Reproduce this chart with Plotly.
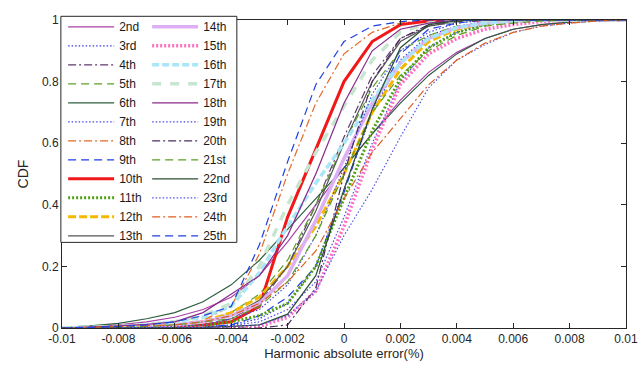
import plotly.graph_objects as go

# x grid (Harmonic absolute error, %)
x_grid = [-0.010, -0.009, -0.008, -0.007, -0.006, -0.005, -0.004, -0.003, -0.002, -0.001,
          0.000, 0.001, 0.002, 0.003, 0.004, 0.005, 0.006, 0.007, 0.008, 0.009, 0.010]

names = ["2nd", "3rd", "4th", "5th", "6th", "7th", "8th", "9th", "10th", "11th", "12th", "13th",
         "14th", "15th", "16th", "17th", "18th", "19th", "20th", "21st", "22nd", "23rd", "24th", "25th"]

cdf_2nd = [0.001, 0.004, 0.01, 0.02, 0.035, 0.06, 0.1, 0.17, 0.28, 0.4, 0.52, 0.63, 0.74, 0.83, 0.895, 0.94, 0.97, 0.985, 0.993, 0.998, 1]
cdf_3rd = [0, 0, 0, 0, 0.002, 0.005, 0.01, 0.03, 0.08, 0.2, 0.45, 0.7, 0.87, 0.95, 0.98, 0.995, 1, 1, 1, 1, 1]
cdf_4th = [0, 0, 0, 0.002, 0.005, 0.01, 0.03, 0.08, 0.2, 0.4, 0.62, 0.82, 0.94, 0.98, 0.995, 1, 1, 1, 1, 1, 1]
cdf_5th = [0, 0, 0.002, 0.005, 0.01, 0.02, 0.05, 0.11, 0.22, 0.4, 0.6, 0.78, 0.9, 0.95, 0.98, 0.99, 0.997, 1, 1, 1, 1]
cdf_6th = [0.002, 0.007, 0.015, 0.03, 0.05, 0.085, 0.14, 0.22, 0.32, 0.42, 0.52, 0.63, 0.73, 0.82, 0.89, 0.94, 0.97, 0.985, 0.993, 0.998, 1]
cdf_7th = [0, 0, 0, 0, 0, 0.002, 0.008, 0.02, 0.06, 0.15, 0.36, 0.6, 0.8, 0.91, 0.96, 0.985, 0.995, 1, 1, 1, 1]
cdf_8th = [0, 0.001, 0.003, 0.006, 0.012, 0.025, 0.07, 0.24, 0.5, 0.73, 0.89, 0.96, 0.99, 0.998, 1, 1, 1, 1, 1, 1, 1]
cdf_9th = [0, 0, 0, 0, 0, 0.003, 0.01, 0.04, 0.1, 0.2, 0.44, 0.71, 0.89, 0.97, 0.99, 1, 1, 1, 1, 1, 1]
cdf_10th = [0, 0, 0, 0.002, 0.005, 0.01, 0.02, 0.07, 0.36, 0.58, 0.8, 0.93, 0.985, 0.997, 1, 1, 1, 1, 1, 1, 1]
cdf_11th = [0, 0, 0, 0, 0.003, 0.008, 0.02, 0.04, 0.08, 0.2, 0.42, 0.64, 0.81, 0.91, 0.96, 0.985, 0.995, 1, 1, 1, 1]
cdf_12th = [0, 0, 0.002, 0.005, 0.01, 0.02, 0.05, 0.1, 0.2, 0.33, 0.5, 0.7, 0.84, 0.93, 0.97, 0.99, 0.997, 1, 1, 1, 1]
cdf_13th = [0, 0, 0.002, 0.005, 0.01, 0.02, 0.04, 0.09, 0.2, 0.38, 0.6, 0.8, 0.93, 0.98, 0.995, 1, 1, 1, 1, 1, 1]
cdf_14th = [0, 0, 0.002, 0.005, 0.01, 0.02, 0.04, 0.08, 0.17, 0.35, 0.55, 0.73, 0.86, 0.94, 0.975, 0.99, 0.997, 1, 1, 1, 1]
cdf_15th = [0, 0, 0, 0, 0, 0, 0, 0.005, 0.035, 0.12, 0.33, 0.58, 0.79, 0.89, 0.94, 0.97, 0.985, 0.995, 1, 1, 1]
cdf_16th = [0, 0.002, 0.005, 0.01, 0.02, 0.035, 0.07, 0.18, 0.33, 0.47, 0.6, 0.74, 0.86, 0.94, 0.975, 0.99, 0.997, 1, 1, 1, 1]
cdf_17th = [0, 0.002, 0.005, 0.01, 0.02, 0.04, 0.08, 0.2, 0.4, 0.57, 0.72, 0.87, 0.96, 0.99, 0.998, 1, 1, 1, 1, 1, 1]
cdf_18th = [0, 0.003, 0.007, 0.012, 0.02, 0.05, 0.11, 0.17, 0.3, 0.5, 0.73, 0.9, 0.97, 0.99, 1, 1, 1, 1, 1, 1, 1]
cdf_19th = [0, 0, 0, 0.002, 0.005, 0.01, 0.03, 0.06, 0.14, 0.3, 0.52, 0.76, 0.9, 0.96, 0.99, 1, 1, 1, 1, 1, 1]
cdf_20th = [0, 0, 0, 0, 0, 0, 0, 0, 0.01, 0.13, 0.5, 0.8, 0.94, 0.985, 1, 1, 1, 1, 1, 1, 1]
cdf_21st = [0, 0, 0.002, 0.005, 0.01, 0.02, 0.03, 0.07, 0.15, 0.3, 0.5, 0.7, 0.82, 0.9, 0.95, 0.98, 0.99, 0.997, 1, 1, 1]
cdf_22nd = [0, 0, 0, 0, 0, 0.002, 0.005, 0.01, 0.045, 0.17, 0.45, 0.71, 0.91, 0.985, 0.997, 1, 1, 1, 1, 1, 1]
cdf_23rd = [0, 0, 0, 0, 0, 0.002, 0.005, 0.01, 0.04, 0.12, 0.3, 0.45, 0.62, 0.78, 0.87, 0.92, 0.96, 0.98, 0.99, 0.997, 1]
cdf_24th = [0, 0.002, 0.004, 0.007, 0.01, 0.02, 0.04, 0.08, 0.15, 0.25, 0.42, 0.57, 0.68, 0.79, 0.87, 0.925, 0.96, 0.98, 0.99, 0.997, 1]
cdf_25th = [0, 0.002, 0.005, 0.01, 0.02, 0.04, 0.07, 0.27, 0.54, 0.79, 0.93, 0.98, 0.995, 1, 1, 1, 1, 1, 1, 1, 1]

series = [cdf_2nd, cdf_3rd, cdf_4th, cdf_5th, cdf_6th, cdf_7th, cdf_8th, cdf_9th, cdf_10th, cdf_11th,
          cdf_12th, cdf_13th, cdf_14th, cdf_15th, cdf_16th, cdf_17th, cdf_18th, cdf_19th, cdf_20th,
          cdf_21st, cdf_22nd, cdf_23rd, cdf_24th, cdf_25th]

colors = ["#A940A8", "#3A3AE8", "#5E3A6E", "#5DA028", "#2E5E3E", "#4A4AE8", "#E06A2A", "#1E3EE8",
          "#F01818", "#50A010", "#F5B800", "#555555", "#DDB0F5", "#FF6EC0", "#A8E6F8", "#C6E6CF",
          "#8A2A8A", "#4848E0", "#4A2E5A", "#5A9E20", "#2C4E32", "#5050E8", "#DD5F20", "#2040E0"]
DOT, DASH, DASHDOT = "1.5px,2px", "8px,5px", "8px,3px,2px,3px"
dashes = ["solid", DOT, DASHDOT, DASH, "solid", DOT, DASHDOT, DASH,
          "solid", "2px,2px", "8px,3px", "solid", "solid", "2px,2px", "7px,3px", "9px,9px",
          "solid", DOT, DASHDOT, DASH, "solid", DOT, DASHDOT, DASH]
widths = [1.2, 1.2, 1.2, 1.2, 1.2, 1.2, 1.2, 1.2,
          3, 3, 3, 1.2, 3.5, 3.5, 3.5, 3.5,
          1.2, 1.2, 1.2, 1.2, 1.2, 1.2, 1.2, 1.2]

xticks = [-0.01, -0.008, -0.006, -0.004, -0.002, 0, 0.002, 0.004, 0.006, 0.008, 0.01]
xticklabels = ["-0.01", "-0.008", "-0.006", "-0.004", "-0.002", "0", "0.002", "0.004", "0.006", "0.008", "0.01"]
yticks = [0, 0.2, 0.4, 0.6, 0.8, 1]
yticklabels = ["0", "0.2", "0.4", "0.6", "0.8", "1"]

FONT = "Liberation Sans, Arial, Helvetica, sans-serif"

fig = go.Figure()
for i, (nm, ys) in enumerate(zip(names, series)):
    fig.add_trace(go.Scatter(
        x=x_grid, y=ys, mode="lines", name=nm,
        line=dict(color=colors[i], dash=dashes[i], width=widths[i]),
        legend="legend" if i < 12 else "legend2",
    ))

axis_common = dict(showline=True, linecolor="#262626", linewidth=1, mirror="ticks",
                   ticks="inside", ticklen=5, tickcolor="#262626", showgrid=False,
                   zeroline=False, automargin=False,
                   tickfont=dict(size=12, color="#262626", family=FONT))

leg_common = dict(yanchor="top", xanchor="left", bgcolor="rgba(0,0,0,0)", borderwidth=0,
                  font=dict(size=12, family=FONT, color="#1a1a1a"), itemwidth=46,
                  tracegroupgap=0, maxheight=360)

fig.update_layout(
    width=641, height=378,
    margin=dict(l=62, r=15, t=12, b=50),
    paper_bgcolor="white", plot_bgcolor="white",
    font=dict(family=FONT, color="#262626"),
    xaxis=dict(range=[-0.01, 0.01], tickvals=xticks, ticktext=xticklabels,
               title=dict(text="Harmonic absolute error(%)", font=dict(size=13), standoff=3),
               **axis_common),
    yaxis=dict(range=[0, 1], tickvals=yticks, ticktext=yticklabels,
               title=dict(text="CDF", font=dict(size=14), standoff=10),
               **axis_common),
    legend=dict(x=0.002, y=1.025, **leg_common),
    legend2=dict(x=0.151, y=1.025, **leg_common),
    shapes=[dict(type="rect", xref="paper", yref="paper", x0=-0.002, x1=0.31, y0=0.278, y1=1.012,
                 line=dict(color="#262626", width=1), fillcolor="white", layer="above")],
)

fig.write_html("out.html")
